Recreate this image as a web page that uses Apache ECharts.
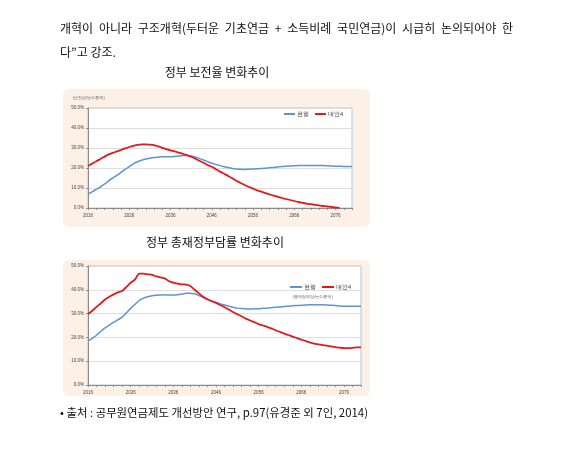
<!DOCTYPE html>
<html>
<head>
<meta charset="utf-8" />
<title>정부 보전율 변화추이</title>
<script src="https://cdn.jsdelivr.net/npm/echarts@6/dist/echarts.min.js"></script>
<style>
  html, body { margin: 0; padding: 0; background: #fff; }
  body { width: 579px; height: 469px; position: relative; overflow: hidden;
         font-family: "Noto Sans CJK KR", "Noto Sans", sans-serif; color: #111; }
  #main { position: absolute; left: 0; top: 0; width: 579px; height: 469px; }
  .txt { position: absolute; font-size: 12px; line-height: 14px; white-space: nowrap; }
  .just { text-align: justify; text-align-last: justify; white-space: normal; }
  .ctr { text-align: center; }
</style>
</head>
<body>
<div id="main"></div>
<div class="txt just" style="left:60px;top:21px;width:453px;">개혁이 아니라 구조개혁(두터운 기초연금 + 소득비례 국민연금)이 시급히 논의되어야 한</div>
<div class="txt" style="left:60px;top:45px;">다”고 강조.</div>
<div class="txt ctr" style="left:117px;top:65px;width:200px;">정부 보전율 변화추이</div>
<div class="txt ctr" style="left:115px;top:235px;width:200px;">정부 총재정부담률 변화추이</div>
<div class="txt" style="left:60px;top:405px;font-size:11.4px;">• 출처 : 공무원연금제도 개선방안 연구, p.97(유경준 외 7인, 2014)</div>
<script type="text/javascript">
    // 2016 ~ 2080
    var years = [];
    for (var y = 2016; y <= 2080; y++) { years.push(String(y)); }

    // 정부 보전율 (보전금/보수총액), %
    var bojeonCurrent = [
        7.0, 8.1, 9.3, 10.5, 11.9, 13.6, 15.0, 16.3, 17.8, 19.3,
        20.7, 22.1, 23.1, 23.9, 24.5, 24.9, 25.2, 25.4, 25.6, 25.6,
        25.6, 25.8, 26.0, 26.2, 26.3, 26.0, 25.5, 24.8, 24.0, 23.2,
        22.4, 21.8, 21.2, 20.6, 20.2, 19.8, 19.5, 19.4, 19.3, 19.4,
        19.5, 19.6, 19.7, 19.9, 20.1, 20.3, 20.5, 20.7, 20.9, 21.0,
        21.1, 21.2, 21.3, 21.3, 21.3, 21.3, 21.3, 21.2, 21.1, 21.0,
        20.9, 20.9, 20.8, 20.8, 20.8
    ];
    var bojeonAlt4 = [
        21.0, 22.2, 23.4, 24.5, 25.7, 26.8, 27.6, 28.3, 29.0, 29.8,
        30.5, 31.1, 31.6, 31.8, 31.8, 31.7, 31.4, 30.8, 30.1, 29.4,
        28.8, 28.3, 27.7, 27.1, 26.4, 25.6, 24.6, 23.6, 22.6, 21.5,
        20.6, 19.4, 18.2, 17.1, 16.0, 14.8, 13.6, 12.5, 11.5, 10.5,
        9.7, 8.8, 8.2, 7.4, 6.8, 6.2, 5.6, 5.0, 4.5, 4.0,
        3.5, 3.0, 2.6, 2.2, 1.9, 1.6, 1.3, 1.0, 0.8, 0.5,
        0.3, 0.1, null, null, null
    ];

    // 정부 총재정부담률 (총재정부담/보수총액), %
    var burdenCurrent = [
        18.5, 19.6, 20.9, 22.5, 24.0, 25.2, 26.4, 27.4, 28.5, 30.3,
        32.2, 33.8, 35.5, 36.5, 37.1, 37.5, 37.7, 37.8, 37.9, 37.8,
        37.8, 37.9, 38.2, 38.5, 38.6, 38.3, 37.6, 36.8, 36.0, 35.3,
        34.7, 34.1, 33.6, 33.1, 32.7, 32.3, 32.1, 32.0, 31.9, 32.0,
        32.0, 32.2, 32.3, 32.5, 32.7, 32.8, 33.0, 33.1, 33.3, 33.4,
        33.5, 33.6, 33.7, 33.7, 33.7, 33.7, 33.6, 33.5, 33.4, 33.2,
        33.1, 33.1, 33.1, 33.1, 33.1
    ];
    var burdenAlt4 = [
        29.8, 31.2, 32.8, 34.3, 35.9, 37.1, 38.1, 38.9, 39.5, 41.2,
        43.0, 44.3, 46.8, 46.8, 46.5, 46.3, 45.6, 45.2, 44.8, 43.6,
        43.0, 42.6, 42.3, 42.2, 41.6, 40.0, 38.5, 37.1, 36.0, 35.2,
        34.5, 33.6, 32.7, 31.7, 30.7, 29.7, 28.9, 27.9, 27.1, 26.4,
        25.6, 25.0, 24.4, 23.8, 23.0, 22.3, 21.6, 21.0, 20.3, 19.7,
        19.1, 18.5, 17.9, 17.4, 17.1, 16.8, 16.5, 16.2, 15.9, 15.7,
        15.5, 15.5, 15.6, 15.8, 15.8
    ];

    var seriesNames = ['현행', '대안4'];
    var blue = '#5f93d3';
    var red = '#e3191b';

    function xAxisFor(gridIndex) {
        return {
            type: 'category',
            gridIndex: gridIndex,
            data: years,
            boundaryGap: false,
            axisLine: { lineStyle: { color: '#8c8c8c', width: 1 } },
            axisTick: { show: true, interval: 1, length: 2, lineStyle: { color: '#8c8c8c' } },
            axisLabel: { interval: 9, fontSize: 4.5, color: '#444', margin: 5 }
        };
    }
    function yAxisFor(gridIndex) {
        return {
            type: 'value',
            gridIndex: gridIndex,
            min: 0,
            max: 50,
            interval: 10,
            axisLine: { show: true, lineStyle: { color: '#8c8c8c' } },
            axisTick: { show: true, length: 2, lineStyle: { color: '#8c8c8c' } },
            axisLabel: { fontSize: 4.5, color: '#444', margin: 4,
                formatter: function (v) { return v.toFixed(1) + '%'; } },
            splitLine: { lineStyle: { color: '#dedede', width: 1 } }
        };
    }
    function lineSeries(name, data, idx, color, width) {
        return {
            name: name,
            type: 'line',
            xAxisIndex: idx,
            yAxisIndex: idx,
            data: data,
            symbol: 'none',
            smooth: 0.2,
            connectNulls: false,
            lineStyle: { color: color, width: width },
            itemStyle: { color: color }
        };
    }

    var myChart = echarts.init(document.getElementById('main'));
    var option = {
        animation: false,
        legend: [
            {
                left: 284, top: 111, padding: 0,
                data: seriesNames,
                itemWidth: 11, itemHeight: 2, itemGap: 6,
                icon: 'rect',
                textStyle: { fontSize: 5.5, color: '#333', padding: [0, 0, 0, -3] }
            },
            {
                left: 290, top: 284, padding: 0,
                data: seriesNames,
                itemWidth: 12, itemHeight: 2, itemGap: 6,
                icon: 'rect',
                textStyle: { fontSize: 5.5, color: '#333', padding: [0, 0, 0, -3] }
            }
        ],
        graphic: [
            { type: 'rect', z: -10, shape: { x: 63, y: 89, width: 307, height: 138, r: 6 },
              style: { fill: '#fdf0e6' } },
            { type: 'rect', z: -10, shape: { x: 63, y: 260, width: 307, height: 136, r: 6 },
              style: { fill: '#fdf0e6' } },
            { type: 'text', x: 73, y: 96, style: { text: '(보전금/보수총액)', fontSize: 4, fill: '#555' } },
            { type: 'text', x: 293, y: 294.5, style: { text: '(총재정부담/보수총액)', fontSize: 4, fill: '#555' } }
        ],
        grid: [
            { left: 88, top: 108, width: 264, height: 100, show: true,
              backgroundColor: '#fff', borderColor: '#a8c8e6', borderWidth: 1 },
            { left: 88, top: 266, width: 273, height: 119, show: true,
              backgroundColor: '#fff', borderColor: '#a8c8e6', borderWidth: 1 }
        ],
        xAxis: [xAxisFor(0), xAxisFor(1)],
        yAxis: [yAxisFor(0), yAxisFor(1)],
        series: [
            lineSeries('현행', bojeonCurrent, 0, blue, 1.5),
            lineSeries('대안4', bojeonAlt4, 0, red, 1.8),
            lineSeries('현행', burdenCurrent, 1, blue, 1.5),
            lineSeries('대안4', burdenAlt4, 1, red, 1.8)
        ]
    };
    myChart.setOption(option);
</script>
</body>
</html>
